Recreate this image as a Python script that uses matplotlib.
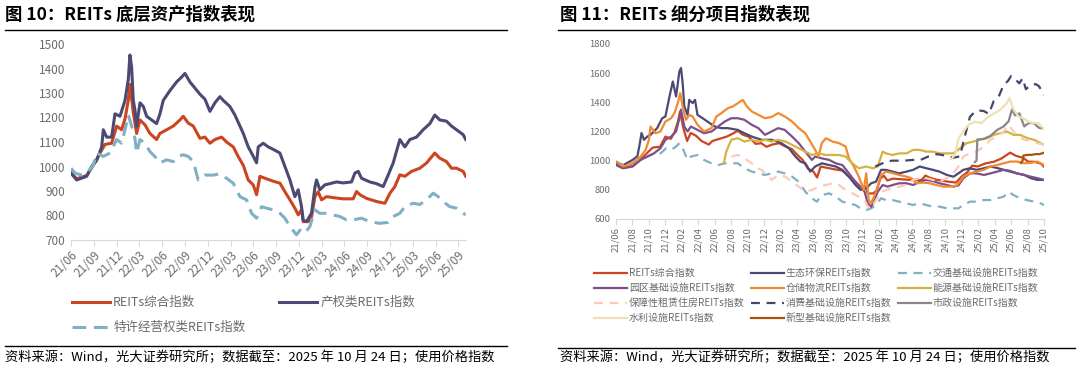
import matplotlib
matplotlib.use('agg')
import matplotlib.pyplot as plt
from matplotlib.lines import Line2D

plt.rcParams['font.family'] = ['Noto Sans CJK SC', 'DejaVu Sans']

# ---- data: x = months since 2021/06 ----
# left chart
zh_t = [0, 0.75, 2.06, 2.94, 3.82, 4.47, 5.35, 6.01, 6.67, 7.11, 7.54, 7.76, 8.2, 8.64, 9.08, 9.74, 10.39, 11.27, 11.71,
        12.59, 13.46, 14.34, 14.78, 15.44, 16.1, 16.97, 17.63, 18.29, 18.95, 19.82, 20.48, 21.36, 22.02, 22.68, 23.33,
        23.99, 24.43, 24.87, 25.53, 26.62, 27.5, 28.16, 28.82, 29.47, 29.91, 30.35, 30.57, 31.23, 31.67, 32.11, 32.54,
        32.98, 33.64, 34.52, 35.83, 37.15, 37.59, 38.03, 38.9, 40.22, 41.32, 41.97, 42.63, 43.29, 43.95, 44.82, 45.92,
        46.8, 47.89, 48.55, 49.43, 50.09, 50.75, 51.62, 51.97]
zh_v = [973, 950, 963, 1005, 1055, 1090, 1095, 1165, 1150, 1195, 1270, 1335, 1220, 1135, 1190, 1170, 1135, 1110, 1135,
        1150, 1165, 1190, 1205, 1177, 1165, 1115, 1120, 1095, 1110, 1120, 1100, 1080, 1040, 1005, 945,
        925, 885, 960, 952, 940, 932, 897, 864, 830, 803, 823, 775, 775, 795, 877, 897,
        864, 877, 873, 868, 868, 898, 885, 870, 857, 850, 890, 918, 966, 960, 980, 993,
        1014, 1055, 1034, 1020, 993, 993, 980, 960]

cq_t = [0, 0.75, 2.06, 2.72, 3.38, 4.04, 4.25, 4.69, 5.35, 5.79, 6.45, 7.11, 7.54, 7.76, 7.98, 8.2, 8.42, 8.64, 9.08,
        9.52, 9.96, 10.61, 11.27, 11.71, 12.15, 13.03, 13.9, 14.56, 15.0, 15.66, 16.32, 16.97, 17.63, 18.29, 18.95,
        19.6, 20.04, 20.92, 21.58, 22.24, 22.68, 23.33, 23.77, 24.43, 24.65, 25.31, 25.96, 26.62, 27.5, 28.16, 28.82,
        29.47, 29.91, 30.35, 30.57, 31.01, 31.67, 32.11, 32.32, 32.76, 33.42, 34.08, 34.96, 35.83, 36.93, 37.37, 37.81,
        38.25, 39.34, 40.22, 41.1, 41.75, 42.41, 43.29, 43.95, 44.61, 45.48, 46.36, 47.24, 47.89, 48.55, 49.43, 50.09,
        50.75, 51.62, 51.97]
cq_v = [973, 945, 960, 1000, 1025, 1080, 1150, 1120, 1120, 1215, 1205, 1270, 1355, 1455, 1405, 1270, 1230, 1165, 1260,
        1245, 1205, 1190, 1175, 1215, 1270, 1310, 1345, 1365, 1380, 1345, 1320, 1295, 1275, 1225, 1260,
        1285, 1270, 1245, 1210, 1165, 1135, 1080, 1055, 1015, 1080, 1095, 1080, 1070, 1055, 1000, 945,
        877, 905, 835, 780, 775, 810, 915, 945, 905, 925, 930, 937, 933, 937, 973, 980,
        952, 937, 930, 918, 965, 1014, 1110, 1080, 1110, 1120, 1150, 1175, 1210, 1190, 1185, 1165,
        1150, 1130, 1110]

tx_t = [0, 0.53, 1.4, 2.06, 2.94, 3.38, 4.25, 5.13, 6.01, 6.67, 7.11, 7.54, 7.98, 8.42, 8.64, 9.08, 9.74, 10.39, 11.05,
        11.71, 12.59, 13.46, 14.12, 14.78, 15.44, 16.1, 16.75, 17.63, 18.73, 19.6, 20.48, 21.36, 22.24, 23.11, 23.77,
        24.43, 25.09, 25.75, 26.62, 27.5, 28.16, 28.82, 29.69, 30.13, 30.79, 31.45, 32.11, 32.76, 33.64, 34.52, 35.39,
        36.27, 37.15, 38.25, 39.34, 40.66, 41.75, 42.41, 43.29, 43.95, 45.04, 45.92, 46.8, 47.68, 48.33, 48.99, 49.87,
        50.75, 51.62, 51.97]
tx_v = [993, 973, 965, 973, 1005, 1055, 1041, 1055, 1110, 1095, 1150, 1210, 1165, 1115, 1055, 1110, 1095, 1061, 1040,
        1015, 1027, 1020, 1041, 1048, 1041, 1020, 945, 965, 965, 970, 952, 932, 877, 864, 809,
        789, 836, 830, 823, 809, 789, 755, 721, 740, 728, 755, 823, 809, 809, 802, 796,
        782, 782, 789, 775, 768, 772, 796, 809, 836, 850, 845, 864, 891, 877, 857, 836,
        830, 809, 803]

left_ticks = ['21/06', '21/09', '21/12', '22/03', '22/06', '22/09', '22/12', '23/03', '23/06', '23/09',
              '23/12', '24/03', '24/06', '24/09', '24/12', '25/03', '25/06', '25/09']

# right chart
eco_t = [0, 0.9, 2.0, 2.6, 2.9, 3.1, 3.4, 3.8, 4.2, 5.0, 5.6, 6.0, 6.5, 6.9, 7.3, 7.7, 7.9, 8.1, 8.3, 8.7, 8.9, 9.3, 9.6,
         9.9, 10.5, 11.4, 12.0, 12.8, 13.6, 14.8, 15.6, 16.5, 17.7, 18.9, 20.1, 21.0, 21.8, 22.4, 23.0, 23.6, 24.2,
         25.0, 25.9, 26.7, 27.5, 28.3, 29.1, 29.7, 30.4, 31.0, 31.6, 32.2, 32.8, 33.6, 34.4, 35.3, 36.1, 36.9, 37.7,
         38.5, 39.3, 40.2, 41.0, 41.6, 42.2, 43.0, 43.8, 44.7, 45.5, 46.3, 47.1, 47.9, 48.7, 49.6, 50.4, 51.2, 52.0]
eco_v = [982, 970, 1005, 1030, 1120, 1190, 1143, 1165, 1177, 1223, 1290, 1303, 1440, 1543, 1440, 1612, 1635, 1532, 1372,
         1314, 1417, 1395, 1417, 1314, 1292, 1257, 1234, 1223, 1223, 1211, 1188, 1165, 1143, 1143, 1120, 1085, 1028,
         994, 982, 925, 960, 982, 970, 960, 937, 890, 833, 800, 810, 845, 856, 937, 937, 925, 913, 925, 937, 960, 948,
         937, 925, 902, 890, 913, 937, 948, 937, 948, 960, 950, 937, 925, 913, 902, 880, 868, 868]

jt_t = [0, 0.9, 2.0, 3.0, 3.8, 4.6, 5.4, 6.1, 6.7, 7.3, 7.7, 8.1, 8.7, 9.1, 9.9, 10.7, 11.6, 12.4, 13.2, 14.0, 14.8,
        15.6, 16.5, 17.3, 18.1, 18.9, 19.7, 20.5, 21.4, 22.2, 23.0, 23.8, 24.4, 25.0, 25.9, 26.7, 27.5, 28.3, 29.1,
        29.7, 30.4, 31.0, 31.6, 32.2, 32.8, 33.6, 34.4, 35.3, 36.1, 36.9, 37.7, 38.5, 39.3, 40.2, 41.0, 41.6, 42.2,
        43.0, 43.8, 44.7, 45.5, 46.3, 47.1, 47.7, 48.3, 49.1, 49.9, 50.8, 51.6, 52.0]
jt_v = [994, 970, 982, 1005, 1028, 1050, 1050, 1085, 1074, 1097, 1120, 1085, 1005, 1028, 1039, 1005, 982, 970, 982,
        982, 982, 948, 925, 913, 902, 913, 925, 913, 890, 856, 787, 742, 719, 764, 776, 753, 719, 707, 696,
        673, 662, 673, 696, 742, 730, 730, 719, 707, 696, 707, 696, 685, 685, 673, 673, 673, 696,
        719, 719, 730, 730, 742, 753, 787, 764, 742, 730, 719, 707, 696]

yq_t = [0, 0.9, 2.0, 3.0, 3.8, 4.6, 5.4, 6.0, 6.7, 7.3, 7.7, 7.9, 8.3, 8.7, 9.1, 9.9, 10.7, 11.6, 12.4, 13.2, 14.0,
        14.8, 15.6, 16.5, 17.3, 18.1, 18.9, 19.7, 20.5, 21.4, 22.2, 23.0, 23.8, 24.2, 25.0, 25.9, 26.7, 27.5, 28.3,
        28.9, 29.5, 30.2, 30.6, 31.0, 31.4, 31.8, 32.4, 33.0, 33.6, 34.4, 35.3, 36.1, 36.9, 37.7, 38.5, 39.3, 40.2,
        41.0, 41.6, 42.2, 43.0, 43.8, 44.7, 45.5, 46.3, 47.1, 47.9, 48.7, 49.6, 50.4, 51.2, 52.0]
yq_v = [970, 948, 960, 1005, 1028, 1050, 1085, 1143, 1165, 1200, 1291, 1350, 1234, 1200, 1234, 1211, 1188, 1200, 1234,
        1268, 1291, 1291, 1280, 1246, 1223, 1177, 1200, 1223, 1211, 1165, 1120, 1062, 1005, 1028, 1016, 1005, 982,
        970, 913, 868, 833, 787, 707, 684, 730, 787, 833, 822, 833, 845, 845, 833, 856, 868, 860, 845, 833,
        822, 830, 880, 913, 913, 902, 913, 925, 937, 930, 913, 902, 890, 880, 868]

cc_t = [0, 0.9, 2.0, 3.0, 3.6, 4.0, 4.2, 4.8, 5.4, 6.0, 6.7, 7.1, 7.5, 7.8, 8.1, 8.5, 8.9, 9.3, 9.9, 10.7, 11.6, 12.2,
        12.8, 13.6, 14.2, 14.8, 15.4, 15.9, 16.5, 17.3, 18.1, 18.9, 19.7, 20.6, 21.4, 22.2, 23.0, 23.6, 24.2, 24.6,
        25.0, 25.5, 26.3, 27.1, 27.9, 28.3, 28.9, 29.5, 30.1, 30.4, 30.7, 31.0, 31.6, 32.2, 32.8, 33.6, 34.4, 35.3,
        35.9, 36.5, 37.3, 38.1, 38.9, 39.8, 40.6, 41.4, 42.2, 43.0, 43.8, 44.7, 45.5, 46.3, 47.1, 47.9, 48.7, 49.6,
        50.4, 51.2, 52.0]
cc_v = [994, 960, 982, 1028, 1074, 1143, 1234, 1188, 1200, 1268, 1291, 1326, 1394, 1463, 1372, 1280, 1314, 1303, 1246,
        1200, 1223, 1303, 1326, 1360, 1372, 1394, 1417, 1372, 1337, 1314, 1291, 1300, 1326, 1300, 1268, 1223, 1188,
        1131, 1074, 1028, 1120, 1154, 1131, 1120, 1097, 1016, 960, 890, 800, 913, 730, 707, 787, 902, 925, 915, 902,
        890, 880, 845, 850, 845, 833, 822, 822, 830, 890, 913, 925, 937, 960, 970, 982, 994, 994, 982, 985, 994, 970]

ny_t = [13.1, 13.4, 14.0, 14.8, 15.6, 16.5, 17.3, 18.1, 18.9, 19.7, 20.6, 21.4, 22.2, 23.0, 23.8, 24.6, 25.5, 26.3,
        27.1, 27.9, 28.7, 29.5, 30.4, 31.2, 31.8, 32.4, 32.8, 33.6, 34.4, 35.3, 36.1, 36.9, 37.7, 38.5, 39.3, 40.2,
        41.0, 41.8, 42.6, 43.4, 44.2, 45.1, 45.9, 46.7, 47.5, 48.3, 49.1, 50.0, 50.8, 51.6, 52.0]
ny_v = [982, 1062, 1143, 1154, 1131, 1143, 1131, 1143, 1131, 1143, 1131, 1108, 1085, 1062, 1039, 1050, 1039, 1039,
        1039, 1028, 982, 948, 960, 948, 960, 1062, 1050, 1039, 1050, 1050, 1074, 1074, 1062, 1062, 1050, 1050,
        1050, 1085, 1120, 1131, 1143, 1154, 1177, 1188, 1200, 1177, 1177, 1154, 1143, 1120, 1108]

bz_t = [14.0, 14.8, 15.6, 16.5, 17.1, 17.7, 18.3, 18.9, 19.7, 20.6, 21.4, 22.2, 23.0, 23.8, 24.6, 25.5, 26.3, 27.1,
        27.9, 28.7, 29.5, 30.2, 30.6, 31.0, 31.6, 32.2, 32.8, 33.6, 34.4, 35.3, 36.1, 36.9, 37.7, 38.5, 39.3, 40.2,
        41.0, 41.6, 42.2, 43.0, 43.8, 44.7, 45.5, 46.3, 47.1, 47.7, 48.3, 48.9, 49.6, 50.4, 51.2, 52.0]
bz_v = [1028, 1039, 1016, 982, 948, 937, 902, 868, 902, 890, 856, 822, 787, 799, 822, 833, 845, 833,
        799, 776, 753, 730, 684, 673, 730, 787, 799, 810, 822, 833, 868, 880, 880, 868, 856, 880,
        913, 960, 1028, 1050, 1062, 1097, 1143, 1165, 1200, 1245, 1200, 1165, 1143, 1140, 1120, 1108]

xf_t = [31.5, 32.5, 33.5, 35.0, 36.0, 37.0, 38.0, 39.0, 40.0, 41.0, 41.8, 42.3, 43.0, 43.5, 44.0, 44.7, 45.3, 45.9,
        46.5, 47.1, 47.6, 48.0, 48.5, 49.0, 49.4, 49.8, 50.4, 51.0, 51.4, 52.0]
xf_v = [960, 985, 1000, 1000, 1005, 1005, 1030, 1045, 1035, 1020, 1030, 1150, 1300, 1330, 1345, 1340, 1320, 1410,
        1440, 1520, 1545, 1580, 1560, 1530, 1565, 1490, 1520, 1525, 1510, 1450]

sz_t = [43.6, 43.8, 43.9, 44.7, 45.5, 46.3, 47.1, 47.7, 48.1, 48.5, 49.0, 49.6, 50.2, 50.8, 51.4, 52.0]
sz_v = [990, 1000, 1145, 1150, 1170, 1210, 1235, 1270, 1350, 1310, 1325, 1235, 1260, 1255, 1225, 1220]

sl_t = [40.7, 41.2, 41.6, 42.2, 42.8, 43.6, 44.4, 45.2, 46.0, 46.7, 47.5, 47.8, 48.3, 48.9, 49.5, 50.1, 50.7, 51.3,
        52.0]
sl_v = [1010, 1040, 1150, 1200, 1245, 1268, 1257, 1300, 1326, 1350, 1395, 1430, 1350, 1303, 1290, 1268, 1257, 1258,
        1215]

xx_t = [49.2, 49.4, 49.5, 50.0, 50.5, 51.0, 51.5, 52.0]
xx_v = [985, 1000, 1035, 1040, 1040, 1045, 1045, 1055]

right_ticks = ['21/06', '21/08', '21/10', '21/12', '22/02', '22/04', '22/06', '22/08', '22/10', '22/12',
               '23/02', '23/04', '23/06', '23/08', '23/10', '23/12', '24/02', '24/04', '24/06', '24/08',
               '24/10', '24/12', '25/02', '25/04', '25/06', '25/08', '25/10']

RED = '#cc4420'
NAVY = '#4c4a74'
LBLUE = '#7fb0c4'
GREY_TXT = '#6b6b6b'
AXIS = '#d9d9d9'

fig = plt.figure(figsize=(10.8, 3.7), dpi=100)
W, H = 1080.0, 370.0


def hline(x0, x1, y, lw=1.0):
    fig.add_artist(Line2D([x0 / W, x1 / W], [1 - y / H, 1 - y / H], transform=fig.transFigure,
                          color='black', lw=lw))


def style_axes(ax, fs):
    for s in ['top', 'right', 'left']:
        ax.spines[s].set_visible(False)
    ax.spines['bottom'].set_color(AXIS)
    ax.tick_params(axis='y', length=0, labelsize=fs, labelcolor=GREY_TXT, pad=4)
    ax.tick_params(axis='x', length=4, color=AXIS, labelsize=fs, labelcolor=GREY_TXT)


# ---------------- left chart ----------------
fig.text(5 / W, 1 - 15 / H, '图 10：REITs 底层资产指数表现', fontsize=12.5, fontweight='bold', va='center', ha='left')
hline(5, 507, 30)

ax1 = fig.add_axes([71 / W, 1 - 240 / H, 395 / W, 196 / H])
l1, = ax1.plot(zh_t, zh_v, color=RED, lw=2.2, label='REITs综合指数')
l2, = ax1.plot(cq_t, cq_v, color=NAVY, lw=2.2, label='产权类REITs指数')
l3, = ax1.plot(tx_t, tx_v, color=LBLUE, lw=2.2, dashes=(4.5, 2.5), label='特许经营权类REITs指数')
ax1.set_xlim(0, 52)
ax1.set_ylim(700, 1500)
ax1.set_yticks(range(700, 1501, 100))
ax1.set_xticks(range(0, 52, 3))
ax1.set_xticklabels(left_ticks, rotation=45, ha='right', rotation_mode='anchor')
style_axes(ax1, 8.5)
ax1.tick_params(axis='x', pad=2)

fig.legend([l1, l3, l2], [l1.get_label(), l3.get_label(), l2.get_label()], ncol=2,
           loc='upper left', bbox_to_anchor=(72 / W, 1 - 296 / H), frameon=False, fontsize=9,
           handlelength=3.0, handletextpad=0.3, columnspacing=2.7, labelspacing=0.95,
           labelcolor=GREY_TXT, borderpad=0, borderaxespad=0)

hline(5, 507, 346)
fig.text(5 / W, 1 - 357 / H, '资料来源：Wind，光大证券研究所；数据截至：2025 年 10 月 24 日；使用价格指数',
         fontsize=9.5, va='center', ha='left')

# ---------------- right chart ----------------
fig.text(560 / W, 1 - 15 / H, '图 11：REITs 细分项目指数表现', fontsize=12.5, fontweight='bold', va='center', ha='left')
hline(558, 1075, 30)

ax2 = fig.add_axes([616 / W, 1 - 219 / H, 428 / W, 175 / H])
series = [
    (zh_t, zh_v, RED, None, 'REITs综合指数'),
    (eco_t, eco_v, NAVY, None, '生态环保REITs指数'),
    (jt_t, jt_v, LBLUE, (4, 3), '交通基础设施REITs指数'),
    (yq_t, yq_v, '#7d4f8c', None, '园区基础设施REITs指数'),
    (cc_t, cc_v, '#f28a30', None, '仓储物流REITs指数'),
    (ny_t, ny_v, '#d6b23e', None, '能源基础设施REITs指数'),
    (bz_t, bz_v, '#fbcbb8', (4, 3), '保障性租赁住房REITs指数'),
    (xf_t, xf_v, '#46456e', (4, 3), '消费基础设施REITs指数'),
    (sz_t, sz_v, '#888888', None, '市政设施REITs指数'),
    (sl_t, sl_v, '#efe1b3', None, '水利设施REITs指数'),
    (xx_t, xx_v, '#a9530f', None, '新型基础设施REITs指数'),
]
handles = []
for t, v, c, d, name in series:
    if d is None:
        h, = ax2.plot(t, v, color=c, lw=1.6, label=name)
    else:
        h, = ax2.plot(t, v, color=c, lw=1.6, dashes=d, label=name)
    handles.append(h)
ax2.set_xlim(0, 52)
ax2.set_ylim(600, 1800)
ax2.set_yticks(range(600, 1801, 200))
ax2.set_xticks(range(0, 53, 2))
ax2.set_xticklabels(right_ticks, rotation=90, ha='center', va='top')
style_axes(ax2, 6.8)
ax2.tick_params(axis='x', pad=2)

order = [0, 3, 6, 9, 1, 4, 7, 10, 2, 5, 8]
fig.legend([handles[i] for i in order], [handles[i].get_label() for i in order], ncol=3,
           loc='upper left', bbox_to_anchor=(594 / W, 1 - 268 / H), frameon=False, fontsize=7.2,
           handlelength=3.3, handletextpad=0.2, columnspacing=0.6, labelspacing=0.5,
           labelcolor=GREY_TXT, borderpad=0, borderaxespad=0)

hline(558, 1075, 348)
fig.text(560 / W, 1 - 357 / H, '资料来源：Wind，光大证券研究所；数据截至：2025 年 10 月 24 日；使用价格指数',
         fontsize=9.5, va='center', ha='left')

fig.savefig('out.png', dpi=100)
